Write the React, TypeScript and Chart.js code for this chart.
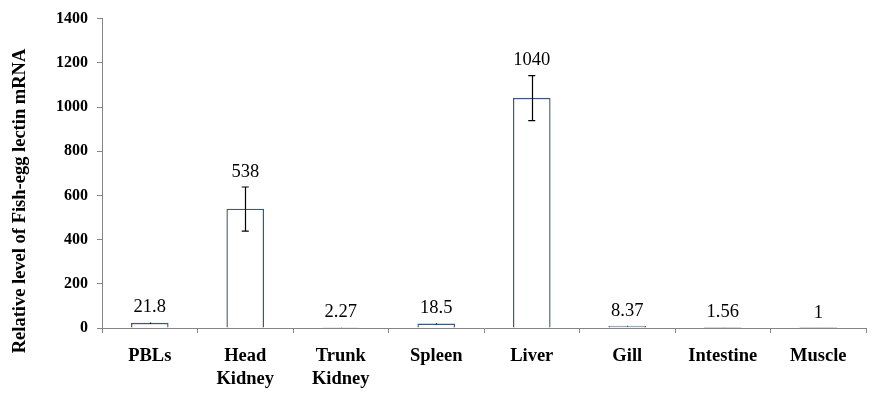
import React, { useEffect, useRef } from "react";
import { Chart, registerables } from "chart.js";

Chart.register(...registerables);

const categories: (string | string[])[] = [
  "PBLs",
  ["Head", "Kidney"],
  ["Trunk", "Kidney"],
  "Spleen",
  "Liver",
  "Gill",
  "Intestine",
  "Muscle",
];
const values = [21.8, 538, 2.27, 18.5, 1040, 8.37, 1.56, 1];
const errors = [3, 100, 0.4, 2.5, 102, 1.5, 0.3, 0.1];
const valueLabels = ["21.8", "538", "2.27", "18.5", "1040", "8.37", "1.56", "1"];
const yTicks = [0, 200, 400, 600, 800, 1000, 1200, 1400];
const yTitle = "Relative level of Fish-egg lectin mRNA";

const SERIF = "'Liberation Serif', 'Times New Roman', serif";

const errorBarPlugin = {
  id: "errorBars",
  afterDatasetsDraw(chart: any) {
    const ctx = chart.ctx;
    const meta = chart.getDatasetMeta(0);
    const y = chart.scales.y;
    ctx.save();
    meta.data.forEach((bar: any, i: number) => {
      const x = bar.x;
      const top = y.getPixelForValue(values[i] + errors[i]);
      const bot = y.getPixelForValue(Math.max(0, values[i] - errors[i]));
      ctx.strokeStyle = "#000";
      ctx.lineWidth = 1.2;
      ctx.beginPath();
      ctx.moveTo(Math.round(x) + 0.5, top);
      ctx.lineTo(Math.round(x) + 0.5, bot);
      if (errors[i] * 0.2221 > 2) {
        ctx.moveTo(x - 3.5, top);
        ctx.lineTo(x + 3.5, top);
        ctx.moveTo(x - 3.5, bot);
        ctx.lineTo(x + 3.5, bot);
      }
      ctx.stroke();
      ctx.fillStyle = "#000";
      ctx.font = `18.5px ${SERIF}`;
      ctx.textAlign = "center";
      ctx.textBaseline = "middle";
      ctx.fillText(valueLabels[i], x, top - 15);
    });
    // y axis title
    ctx.translate(20.5, 201);
    ctx.rotate(-Math.PI / 2);
    ctx.font = `bold 18.5px ${SERIF}`;
    ctx.fillStyle = "#000";
    ctx.textAlign = "center";
    ctx.textBaseline = "middle";
    ctx.fillText(yTitle, 0, 0);
    ctx.restore();
  },
};

export default function App() {
  const ref = useRef<HTMLCanvasElement | null>(null);
  useEffect(() => {
    if (!ref.current) return;
    const chart = new Chart(ref.current, {
      type: "bar",
      data: {
        labels: categories,
        datasets: [
          {
            data: values,
            backgroundColor: "#ffffff",
            borderColor: "#3b5a7d",
            borderWidth: 1.3,
            barThickness: 37,
          },
        ],
      },
      options: {
        responsive: false,
        animation: false,
        layout: { padding: { top: 17, right: 16, left: 0, bottom: 0 } },
        plugins: {
          legend: { display: false },
          tooltip: { enabled: false },
          title: { display: false },
        },
        scales: {
          x: {
            offset: true,
            grid: {
              offset: true,
              drawOnChartArea: false,
              tickLength: 5,
              color: "#868686",
            },
            border: { color: "#868686", width: 1 },
            ticks: {
              color: "#000",
              padding: 12,
              maxRotation: 0,
              autoSkip: false,
              font: { family: SERIF, size: 18.5, weight: "bold", lineHeight: 1.22 },
            },
            afterFit(scale: any) {
              scale.height = 75;
            },
          },
          y: {
            min: 0,
            max: 1400,
            afterBuildTicks(scale: any) {
              scale.ticks = yTicks.map((v) => ({ value: v }));
            },
            grid: {
              drawOnChartArea: false,
              tickLength: 5,
              color: "#868686",
            },
            border: { color: "#868686", width: 1 },
            ticks: {
              color: "#000",
              padding: 9,
              font: { family: SERIF, size: 16, weight: "bold" },
              callback: (v: any) => String(v),
            },
            afterFit(scale: any) {
              scale.width = 102;
            },
          },
        },
      },
      plugins: [errorBarPlugin],
    });
    return () => chart.destroy();
  }, []);
  return (
    <div style={{ position: "absolute", left: 0, top: 0, width: 882, height: 403, background: "#fff" }}>
      <canvas ref={ref} width={882} height={403} style={{ width: 882, height: 403 }} />
    </div>
  );
}
